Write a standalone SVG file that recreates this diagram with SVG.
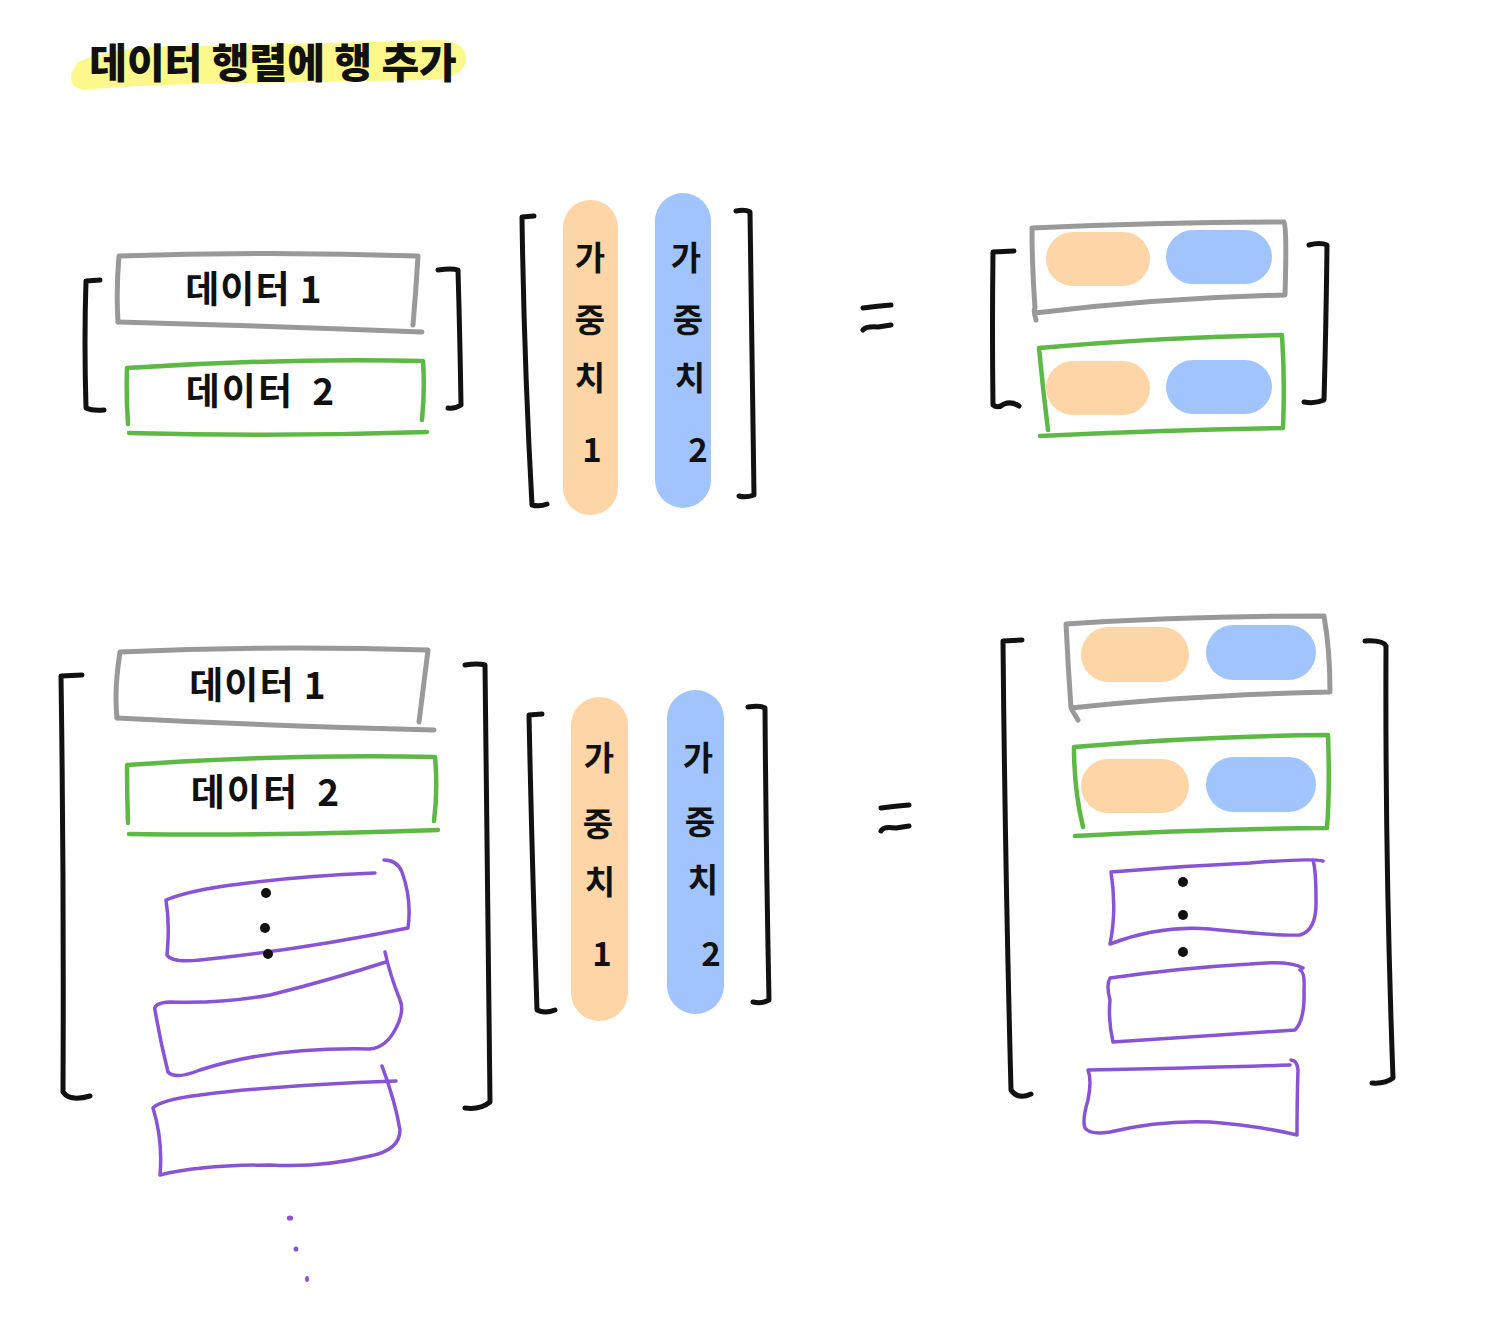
<svg xmlns="http://www.w3.org/2000/svg" width="1485" height="1324" viewBox="0 0 1485 1324">
<style>
.ink{fill:none;stroke:#111;stroke-width:5;stroke-linecap:round;stroke-linejoin:round}
.gray{fill:none;stroke:#999;stroke-width:5;stroke-linecap:round;stroke-linejoin:round}
.green{fill:none;stroke:#5db846;stroke-width:4.5;stroke-linecap:round;stroke-linejoin:round}
.purple{fill:none;stroke:#8953d6;stroke-width:3.5;stroke-linecap:round;stroke-linejoin:round}
.or{fill:#fdd5a6}
.bl{fill:#a2c4fc}
.hand{font-family:"Noto Sans CJK KR","Noto Sans",sans-serif;font-weight:700;fill:#111;font-size:37px;text-anchor:middle}
.vt{font-family:"Noto Sans CJK KR","Noto Sans",sans-serif;font-weight:700;fill:#111;font-size:33px;text-anchor:middle}
.dot{fill:#111}
.pdot{fill:#8953d6}
</style>

<g id="title">
<path d="M78,62 Q120,44 200,46 L440,40 Q468,42 466,62 Q462,78 430,80 L200,84 Q120,86 84,90 Q68,88 72,72 Z" fill="#fcf88c"/>
<text x="273" y="78" font-family="Noto Sans CJK KR, Noto Sans, sans-serif" font-weight="900" font-size="41" fill="#111" text-anchor="middle">데이터 행렬에 행 추가</text>
</g>

<!-- TOP SECTION -->
<g id="top-data-matrix">
<path class="ink" d="M100,280 L86,281 Q84,340 86,408 Q92,411 104,410"/>
<path class="gray" d="M118,322 Q116,290 119,256 Q270,251 418,256 Q416,290 413,325"/>
<path class="gray" d="M118,322 Q270,326 422,332"/>
<text class="hand" x="254" y="303" letter-spacing="1">데이터 1</text>
<path class="green" d="M128,424 Q126,395 127,368 Q280,358 423,361 Q425,390 422,420"/>
<path class="green" d="M129,433 Q280,437 427,432"/>
<text class="hand" x="261" y="405" letter-spacing="2" word-spacing="8">데이터 2</text>
<path class="ink" d="M438,270 Q452,268 458,270 Q460,340 461,405 Q455,409 448,408"/>
</g>

<g id="top-weights">
<path class="ink" d="M534,216 L522,217 Q524,360 532,505 Q540,507 547,504"/>
<rect class="or" x="563" y="200" width="55" height="315" rx="27.5"/>
<rect class="bl" x="655" y="193" width="56" height="315" rx="28"/>
<text class="vt" x="590" y="270">가</text>
<text class="vt" x="590" y="332">중</text>
<text class="vt" x="590" y="390">치</text>
<text class="vt" x="592" y="462">1</text>
<text class="vt" x="686" y="270">가</text>
<text class="vt" x="688" y="332">중</text>
<text class="vt" x="690" y="390">치</text>
<text class="vt" x="698" y="462">2</text>
<path class="ink" d="M736,211 Q745,209 750,212 Q752,360 754,495 Q746,498 739,496"/>
</g>

<g id="top-equals">
<path class="ink" d="M863,308 Q878,306 891,305"/>
<path class="ink" d="M863,330 Q866,326 878,327 L891,325"/>
</g>

<g id="top-result">
<path class="ink" d="M1014,251 L993,252 Q992,330 993,405 Q998,409 1004,404 Q1012,401 1019,406"/>
<path class="gray" d="M1036,320 Q1033,310 1035,308 Q1032,268 1032,228 Q1160,222 1284,222 Q1287,228 1285,295 Q1160,298 1035,313"/>
<rect class="or" x="1046" y="232" width="104" height="54" rx="27"/>
<rect class="bl" x="1166" y="230" width="106" height="54" rx="27"/>
<path class="green" d="M1048,430 Q1043,390 1039,348 Q1160,337 1282,335 Q1285,380 1283,428 Q1160,430 1040,436"/>
<rect class="or" x="1046" y="361" width="104" height="54" rx="27"/>
<rect class="bl" x="1166" y="360" width="106" height="54" rx="27"/>
<path class="ink" d="M1309,245 Q1320,242 1327,245 Q1326,330 1324,400 Q1315,404 1304,402"/>
</g>

<!-- BOTTOM SECTION -->
<g id="bottom-data-matrix">
<path class="ink" d="M82,675 L61,676 Q64,880 63,1092 Q70,1102 90,1096"/>
<path class="gray" d="M117,718 Q114,690 120,652 Q270,645 428,650 Q423,690 419,722"/>
<path class="gray" d="M117,718 Q270,726 434,730"/>
<text class="hand" x="258" y="699" letter-spacing="1">데이터 1</text>
<path class="green" d="M128,823 Q127,795 127,765 Q280,754 435,757 Q438,790 434,821"/>
<path class="green" d="M129,834 Q280,836 438,830"/>
<text class="hand" x="266" y="806" letter-spacing="2" word-spacing="8">데이터 2</text>
<path class="purple" d="M375,873 Q300,876 240,884 Q190,890 166,900 Q170,925 167,955 Q172,963 200,960 Q300,950 408,928 Q412,900 402,872 Q397,860 384,860"/>
<circle class="dot" cx="266" cy="893" r="5"/>
<circle class="dot" cx="265" cy="928" r="5"/>
<circle class="dot" cx="268" cy="954" r="5"/>
<path class="purple" d="M386,962 Q330,980 270,995 Q220,1004 170,1002 Q153,1003 155,1010 Q160,1040 168,1072 Q175,1080 200,1070 Q270,1047 370,1049 Q385,1048 395,1030 Q405,1012 400,1000 Q390,975 385,952"/>
<path class="purple" d="M396,1081 Q280,1085 200,1095 Q160,1100 153,1108 Q163,1140 160,1175 Q200,1165 270,1165 Q320,1168 370,1156 Q400,1150 400,1130 Q395,1100 382,1066"/>
<path class="ink" d="M465,665 Q478,663 485,665 Q488,880 490,1102 Q480,1110 465,1108"/>
</g>

<g id="continuation-dots">
<ellipse class="pdot" cx="290" cy="1218" rx="3.2" ry="2.6"/>
<ellipse class="pdot" cx="296" cy="1249" rx="2.4" ry="2.6"/>
<ellipse class="pdot" cx="307" cy="1279" rx="2" ry="3"/>
</g>

<g id="bottom-weights">
<path class="ink" d="M542,714 L529,715 Q532,860 537,1010 Q545,1014 555,1010"/>
<rect class="or" x="571" y="697" width="57" height="324" rx="28.5"/>
<rect class="bl" x="667" y="690" width="57" height="324" rx="28.5"/>
<text class="vt" x="599" y="770">가</text>
<text class="vt" x="598" y="836">중</text>
<text class="vt" x="600" y="894">치</text>
<text class="vt" x="602" y="966">1</text>
<text class="vt" x="698" y="770">가</text>
<text class="vt" x="700" y="834">중</text>
<text class="vt" x="703" y="892">치</text>
<text class="vt" x="711" y="966">2</text>
<path class="ink" d="M748,707 Q760,705 765,708 Q766,850 769,1000 Q762,1004 753,1002"/>
</g>

<g id="bottom-equals">
<path class="ink" d="M881,808 Q896,806 909,805"/>
<path class="ink" d="M881,831 Q883,826 896,828 L909,826"/>
</g>

<g id="bottom-result">
<path class="ink" d="M1022,640 L1003,641 Q1005,860 1011,1090 Q1018,1100 1031,1094"/>
<path class="gray" d="M1078,720 Q1072,710 1071,708 Q1068,665 1066,624 Q1190,616 1324,616 Q1330,650 1330,692 Q1190,695 1071,708"/>
<rect class="or" x="1081" y="627" width="108" height="55" rx="27.5"/>
<rect class="bl" x="1206" y="625" width="110" height="55" rx="27.5"/>
<path class="green" d="M1083,827 Q1074,790 1074,747 Q1200,736 1328,735 Q1330,790 1327,828 Q1200,829 1075,836"/>
<rect class="or" x="1081" y="759" width="108" height="54" rx="27"/>
<rect class="bl" x="1206" y="757" width="110" height="55" rx="27.5"/>
<path class="purple" d="M1323,861 Q1310,858 1250,863 Q1180,866 1111,872 Q1117,910 1110,944 Q1160,925 1210,929 Q1280,936 1300,935 Q1317,930 1316,900 Q1316,870 1313,860"/>
<circle class="dot" cx="1183" cy="882" r="5"/>
<circle class="dot" cx="1183" cy="915" r="5"/>
<circle class="dot" cx="1183" cy="952" r="5"/>
<path class="purple" d="M1303,968 Q1290,960 1250,964 Q1180,968 1110,978 Q1106,985 1110,1000 Q1108,1020 1113,1042 Q1200,1036 1295,1030 Q1305,1020 1304,990 Q1305,972 1300,970"/>
<path class="purple" d="M1290,1065 Q1200,1068 1088,1070 Q1092,1080 1088,1100 Q1082,1120 1085,1128 Q1090,1135 1110,1132 Q1160,1120 1210,1122 Q1260,1126 1297,1135 Q1297,1100 1298,1070 Q1297,1060 1291,1060"/>
<path class="ink" d="M1365,641 Q1383,640 1386,646 Q1385,860 1393,1078 Q1385,1084 1372,1083"/>
</g>
</svg>
